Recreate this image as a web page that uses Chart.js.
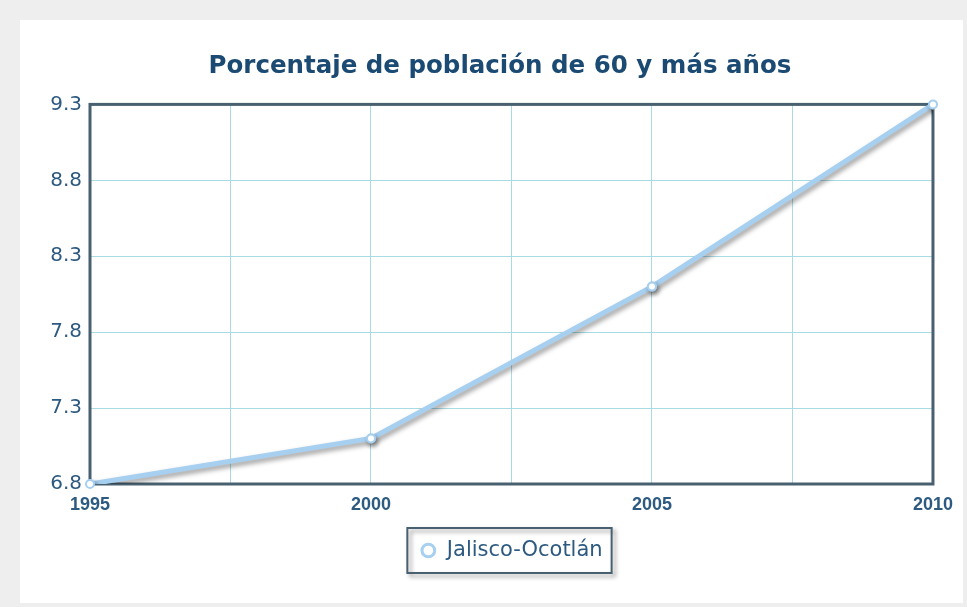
<!DOCTYPE html>
<html>
<head>
<meta charset="utf-8">
<title>Porcentaje de población de 60 y más años</title>
<script src="https://cdn.jsdelivr.net/npm/chart.js@4"></script>
<style>
    html, body { margin: 0; padding: 0; }
    body { background: #eeeeee; width: 967px; height: 607px; position: relative; overflow: hidden; }
    #panel { position: absolute; left: 20px; top: 20px; width: 943px; height: 583px; background: #ffffff; }
</style>
</head>
<body>
<div id="panel"><canvas id="poblacion"></canvas></div>
<script>
// Data
var years = [1995, 2000, 2005, 2010];
var percentages = [6.8, 7.1, 8.1, 9.3];
var seriesName = 'Jalisco-Ocotlán';
var xTicks = [1995, 1997.5, 2000, 2002.5, 2005, 2007.5, 2010];
var yTicks = [6.8, 7.3, 7.8, 8.3, 8.8, 9.3];

var labelColor = '#2d5a80';
var borderColor = '#48606f';
var lineColor = '#a6cff0';
var gridColor = '#a9dbe4';

// Dark frame around the plot area
var frame = {
    id: 'frame',
    beforeDatasetsDraw: function(chart) {
        var a = chart.chartArea;
        var ctx = chart.ctx;
        ctx.save();
        ctx.strokeStyle = borderColor;
        ctx.lineWidth = 3;
        ctx.strokeRect(a.left, a.top, a.right - a.left, a.bottom - a.top);
        ctx.restore();
    }
};

// Move the title a little to the right of the canvas centre
var titleShift = {
    id: 'titleShift',
    afterLayout: function(chart) {
        chart.titleBlock.left += 23;
        chart.titleBlock.right += 23;
    }
};

// Soft shadow under the line, points redrawn on top without it
var lineShadow = {
    id: 'lineShadow',
    beforeDatasetDraw: function(chart) {
        var ctx = chart.ctx;
        ctx.save();
        ctx.shadowColor = 'rgba(0, 0, 0, 0.4)';
        ctx.shadowBlur = 5;
        ctx.shadowOffsetX = 2;
        ctx.shadowOffsetY = 3;
    },
    afterDatasetDraw: function(chart, args) {
        chart.ctx.restore();
        args.meta.data.forEach(p => p.draw(chart.ctx));
    }
};

// Box with shadow around the legend
var legendBox = {
    id: 'legendBox',
    afterDraw: function(chart) {
        var hb = chart.legend.legendHitBoxes[0];
        if (!hb) return;
        var ctx = chart.ctx;
        var x = hb.left - 13, y = hb.top - 12;
        var w = hb.width + 22, h = hb.height + 24;
        ctx.save();
        ctx.shadowColor = 'rgba(0, 0, 0, 0.4)';
        ctx.shadowBlur = 4;
        ctx.shadowOffsetX = 3;
        ctx.shadowOffsetY = 3;
        ctx.strokeStyle = borderColor;
        ctx.lineWidth = 2;
        ctx.strokeRect(x, y, w, h);
        ctx.restore();
    }
};

var ctx = document.getElementById('poblacion').getContext('2d');
var chart = new Chart(ctx, {
    type: 'line',
    data: {
        datasets: [{
            label: seriesName,
            data: years.map((y, i) => ({ x: y, y: percentages[i] })),
            borderColor: lineColor,
            borderWidth: 5,
            pointRadius: 4,
            pointBackgroundColor: '#ffffff',
            pointBorderColor: lineColor,
            pointBorderWidth: 2,
            fill: false,
            tension: 0
        }]
    },
    options: {
        responsive: true,
        maintainAspectRatio: false,
        animation: false,
        layout: { padding: { left: 0, right: 29, top: 0, bottom: 32 } },
        scales: {
            x: {
                type: 'linear',
                min: 1995,
                max: 2010,
                afterBuildTicks: axis => { axis.ticks = xTicks.map(v => ({ value: v })); },
                afterFit: axis => { axis.height = 46; },
                grid: { color: gridColor, drawTicks: false },
                border: { display: false },
                ticks: {
                    autoSkip: false,
                    maxRotation: 0,
                    padding: 10,
                    color: labelColor,
                    font: { family: 'Liberation Sans', size: 18, weight: 'bold' },
                    callback: v => (v % 5 === 0 ? String(v) : '')
                }
            },
            y: {
                min: 6.8,
                max: 9.3,
                afterBuildTicks: axis => { axis.ticks = yTicks.map(v => ({ value: v })); },
                afterFit: axis => { axis.width = 70; },
                grid: { color: gridColor, drawTicks: false },
                border: { display: false },
                ticks: {
                    padding: 8,
                    color: labelColor,
                    font: { family: 'DejaVu Sans', size: 20 },
                    callback: v => v.toFixed(1)
                }
            }
        },
        plugins: {
            title: {
                display: true,
                text: 'Porcentaje de población de 60 y más años',
                color: '#1b4a73',
                font: { family: 'DejaVu Sans', size: 24.5, weight: 'bold' },
                padding: { top: 32, bottom: 23 }
            },
            legend: {
                position: 'bottom',
                fullSize: false,
                labels: {
                    usePointStyle: true,
                    boxWidth: 16,
                    boxHeight: 9,
                    padding: 10,
                    color: labelColor,
                    font: { family: 'DejaVu Sans', size: 21 },
                    generateLabels: function(chart) {
                        return Chart.defaults.plugins.legend.labels.generateLabels(chart)
                            .map(l => Object.assign(l, { lineWidth: 3 }));
                    }
                }
            },
            tooltip: { enabled: false }
        }
    },
    plugins: [frame, titleShift, lineShadow, legendBox]
});
</script>
</body>
</html>
